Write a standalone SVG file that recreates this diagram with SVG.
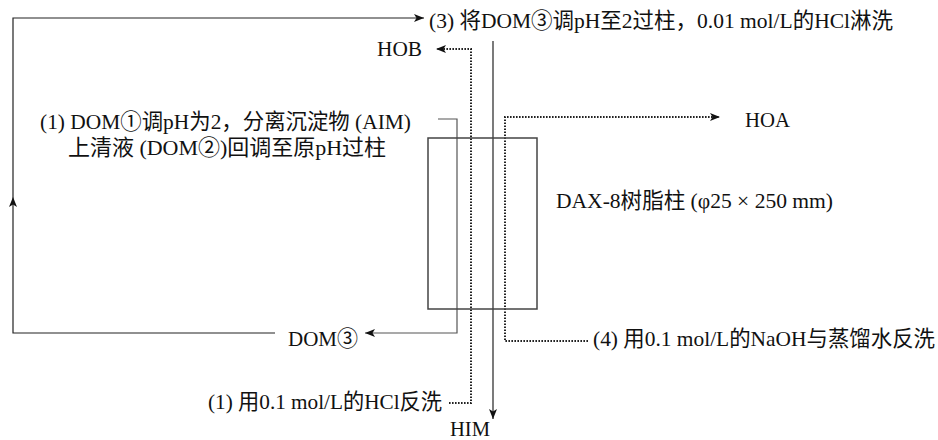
<svg xmlns="http://www.w3.org/2000/svg" width="938" height="440" viewBox="0 0 938 440">
<defs>
<style>
.t{font-family:"Liberation Serif","Noto Sans CJK SC",serif;font-size:21.5px;fill:#111}
.s{fill:none;stroke:#222;stroke-width:1.2}
.g{fill:none;stroke:#555;stroke-width:1.2}
.d{fill:none;stroke:#222;stroke-width:2;stroke-dasharray:1.6,1.4}
</style>
<marker id="ah" markerUnits="userSpaceOnUse" markerWidth="10" markerHeight="8" refX="10" refY="4" orient="auto">
<path d="M0,0 L10,4 L0,8 L2.5,4 z" fill="#111"/>
</marker>
</defs>
<rect width="938" height="440" fill="#fff"/>
<g id="connectors">
<path class="s" d="M275,333 H13 V197" marker-end="url(#ah)"/>
<path class="s" d="M13,197 V18 H424" marker-end="url(#ah)"/>
<path class="s" d="M493,41 V419" marker-end="url(#ah)"/>
<path class="g" d="M438,119 H457 V333 H365" marker-end="url(#ah)"/>
<path class="d" d="M449,403 H471 V49 H436" marker-end="url(#ah)"/>
<path class="d" d="M588,341 H505 V117 H720" marker-end="url(#ah)"/>
</g>
<g id="column">
<rect x="428" y="138" width="109" height="171" fill="none" stroke="#444" stroke-width="1.5"/>
<text class="t" x="556" y="208" textLength="277" lengthAdjust="spacingAndGlyphs">DAX-8树脂柱 (φ25 × 250 mm)</text>
</g>
<g id="step3"><text class="t" x="429" y="28" textLength="464" lengthAdjust="spacingAndGlyphs">(3) 将DOM③调pH至2过柱，0.01 mol/L的HCl淋洗</text></g>
<g id="hob"><text class="t" x="377" y="56" textLength="45" lengthAdjust="spacingAndGlyphs">HOB</text></g>
<g id="step1">
<text class="t" x="40" y="129" textLength="371" lengthAdjust="spacingAndGlyphs">(1) DOM①调pH为2，分离沉淀物 (AIM)</text>
<text class="t" x="68" y="155" textLength="318" lengthAdjust="spacingAndGlyphs">上清液 (DOM②)回调至原pH过柱</text>
</g>
<g id="hoa"><text class="t" x="745" y="127" textLength="45" lengthAdjust="spacingAndGlyphs">HOA</text></g>
<g id="dom3"><text class="t" x="288" y="346" textLength="70" lengthAdjust="spacingAndGlyphs">DOM③</text></g>
<g id="step4"><text class="t" x="593" y="346" textLength="342" lengthAdjust="spacingAndGlyphs">(4) 用0.1 mol/L的NaOH与蒸馏水反洗</text></g>
<g id="wash1"><text class="t" x="208" y="409" textLength="234" lengthAdjust="spacingAndGlyphs">(1) 用0.1 mol/L的HCl反洗</text></g>
<g id="him"><text class="t" x="450" y="436" textLength="40" lengthAdjust="spacingAndGlyphs">HIM</text></g>
</svg>
